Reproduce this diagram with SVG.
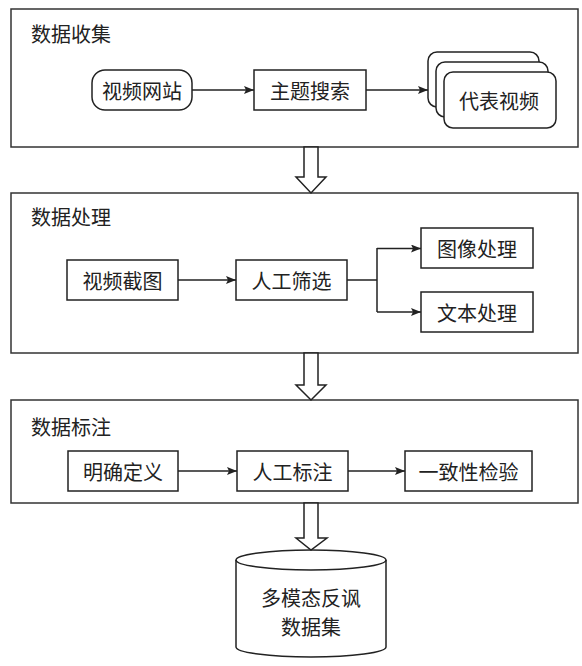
<svg xmlns="http://www.w3.org/2000/svg" width="582" height="666" viewBox="0 0 582 666">
<style>
.sec{fill:#fff;stroke:#333;stroke-width:1.5}
.node{fill:#fff;stroke:#222;stroke-width:1.5}
.t{font-family:"Noto Sans CJK SC","Noto Sans",sans-serif;font-size:20px;fill:#222;text-anchor:middle;dominant-baseline:central}
.title{font-family:"Noto Sans CJK SC","Noto Sans",sans-serif;font-size:20px;fill:#222;dominant-baseline:central}
.c{fill:none;stroke:#222;stroke-width:1.5}
.hollow{fill:#fff;stroke:#222;stroke-width:1.5;stroke-linejoin:miter}
</style>
<defs>
<marker id="ah" viewBox="0 0 10 8" refX="10" refY="4" markerWidth="10" markerHeight="8" markerUnits="userSpaceOnUse" orient="auto">
<path d="M0,0 L10,4 L0,8 L2,4 Z" fill="#222"/>
</marker>
</defs>
<rect width="582" height="666" fill="#fff"/>

<g id="sec1">
<rect class="sec" x="11" y="9" width="567" height="138"/>
<text class="title" x="31" y="33">数据收集</text>
</g>
<g id="sec2">
<rect class="sec" x="11" y="193" width="567" height="160"/>
<text class="title" x="31" y="216">数据处理</text>
</g>
<g id="sec3">
<rect class="sec" x="11" y="400" width="567" height="103"/>
<text class="title" x="31" y="426">数据标注</text>
</g>

<g id="n_site">
<rect class="node" x="92" y="70" width="100" height="40" rx="13"/>
<text class="t" x="142" y="90">视频网站</text>
</g>
<g id="n_search">
<rect class="node" x="254" y="70" width="112" height="40"/>
<text class="t" x="310" y="90">主题搜索</text>
</g>
<g id="n_rep">
<rect class="node" x="428" y="52" width="111" height="55" rx="9"/>
<rect class="node" x="436" y="62" width="112" height="55" rx="9"/>
<rect class="node" x="444" y="72" width="112" height="56" rx="9"/>
<text class="t" x="499" y="100">代表视频</text>
</g>

<g id="n_shot">
<rect class="node" x="67" y="260" width="111" height="40"/>
<text class="t" x="122.5" y="280">视频截图</text>
</g>
<g id="n_filter">
<rect class="node" x="236" y="260" width="111" height="40"/>
<text class="t" x="291.5" y="280">人工筛选</text>
</g>
<g id="n_img">
<rect class="node" x="421" y="228" width="112" height="40"/>
<text class="t" x="477" y="248">图像处理</text>
</g>
<g id="n_txt">
<rect class="node" x="421" y="292" width="112" height="40"/>
<text class="t" x="477" y="312">文本处理</text>
</g>

<g id="n_def">
<rect class="node" x="68" y="451" width="110" height="40"/>
<text class="t" x="123" y="471">明确定义</text>
</g>
<g id="n_label">
<rect class="node" x="237" y="451" width="111" height="40"/>
<text class="t" x="292.5" y="471">人工标注</text>
</g>
<g id="n_check">
<rect class="node" x="405" y="451" width="127" height="40"/>
<text class="t" x="468.5" y="471">一致性检验</text>
</g>

<g id="n_db">
<path class="node" d="M236,560 L236,647 A75,10 0 0 0 386,647 L386,560 A75,10 0 0 0 236,560 Z"/>
<path class="c" d="M236,560 A75,10 0 0 0 386,560"/>
<text class="t" x="311" y="597">多模态反讽</text>
<text class="t" x="311" y="626">数据集</text>
</g>

<g id="connectors">
<line class="c" x1="192" y1="90" x2="254" y2="90" marker-end="url(#ah)"/>
<line class="c" x1="366" y1="90" x2="428" y2="90" marker-end="url(#ah)"/>
<line class="c" x1="178" y1="280" x2="236" y2="280" marker-end="url(#ah)"/>
<path class="c" d="M347,280 L377,280 M377,248 L377,312"/>
<line class="c" x1="377" y1="248.5" x2="421" y2="248.5" marker-end="url(#ah)"/>
<line class="c" x1="377" y1="312" x2="421" y2="312" marker-end="url(#ah)"/>
<line class="c" x1="178" y1="471" x2="237" y2="471" marker-end="url(#ah)"/>
<line class="c" x1="348" y1="471" x2="405" y2="471" marker-end="url(#ah)"/>
<path class="hollow" d="M304,147 L318,147 L318,177 L326,177 L311,193 L296,177 L304,177 Z"/>
<path class="hollow" d="M304,353 L318,353 L318,385 L326,385 L311,400 L296,385 L304,385 Z"/>
<path class="hollow" d="M304,503 L318,503 L318,538 L327,538 L311,550 L296,538 L304,538 Z"/>
</g>
</svg>
